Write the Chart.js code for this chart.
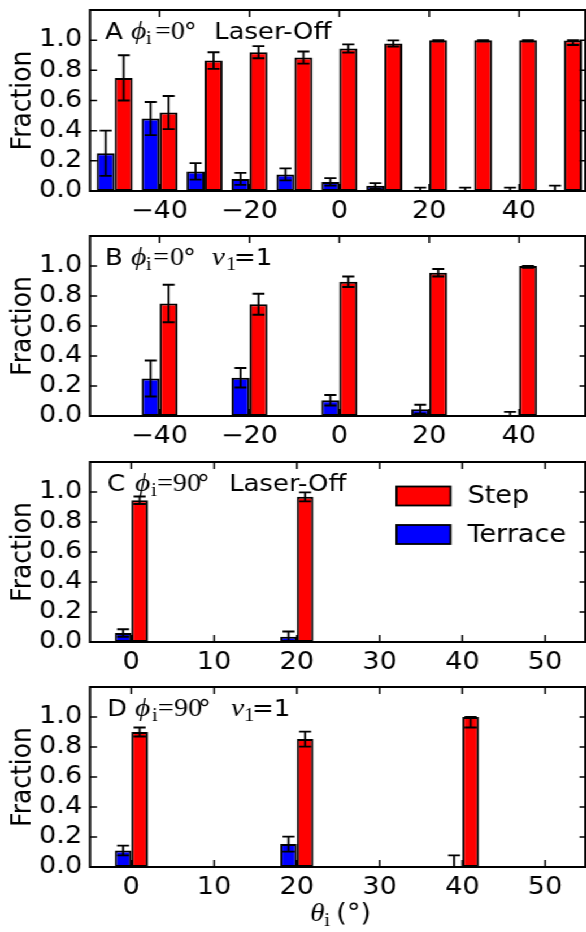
<!DOCTYPE html>
<html>
<head>
<meta charset="utf-8">
<script src="https://cdn.jsdelivr.net/npm/chart.js@4.4.1/dist/chart.umd.min.js"></script>
<style>
    html, body { margin: 0; padding: 0; background: #ffffff; }
    body { width: 586px; height: 932px; position: relative; overflow: hidden; }
    /* the original figure is a little wider than tall, so the drawing is stretched sideways */
    #stage { position: absolute; left: 0; top: 0; width: 519px; height: 932px; transform: scaleX(1.13); transform-origin: 0 0; }
    .panel { position: absolute; left: 0; }
</style>
</head>
<body>
<div id="stage">
    <div class="panel" style="top:0px"><canvas id="chartA" width="519" height="226"></canvas></div>
    <div class="panel" style="top:225px"><canvas id="chartB" width="519" height="226"></canvas></div>
    <div class="panel" style="top:450px"><canvas id="chartC" width="519" height="226"></canvas></div>
    <div class="panel" style="top:675px"><canvas id="chartD" width="519" height="257"></canvas></div>
</div>
<script>
// incidence angle theta_i (deg) for each panel
const thetaA = [-50, -40, -30, -20, -10, 0, 10, 20, 30, 40, 50];
const thetaB = [-40, -20, 0, 20, 40];
const thetaC = [0, 20];
const thetaD = [0, 20, 40];

// terrace / step fractions and their error bars
const terraceA = [0.25, 0.48, 0.13, 0.08, 0.11, 0.06, 0.035, 0.003, 0.003, 0.003, 0.003];
const terraceErrA = [0.15, 0.11, 0.055, 0.04, 0.04, 0.025, 0.017, 0.02, 0.02, 0.02, 0.032];
const stepA = [0.75, 0.52, 0.865, 0.92, 0.885, 0.945, 0.978, 1.0, 1.0, 1.0, 0.998];
const stepErrA = [0.15, 0.11, 0.055, 0.04, 0.04, 0.027, 0.02, 0.01, 0.01, 0.01, 0.03];

const terraceB = [0.25, 0.255, 0.105, 0.045, 0.0];
const terraceErrB = [0.12, 0.065, 0.035, 0.03, 0.027];
const stepB = [0.75, 0.745, 0.895, 0.955, 1.0];
const stepErrB = [0.125, 0.07, 0.035, 0.025, 0.013];

const terraceC = [0.06, 0.035];
const terraceErrC = [0.025, 0.035];
const stepC = [0.945, 0.968];
const stepErrC = [0.025, 0.03];

const terraceD = [0.11, 0.153, 0.0];
const terraceErrD = [0.032, 0.05, 0.077];
const stepD = [0.9, 0.853, 1.0];
const stepErrD = [0.03, 0.05, 0.07];

// tick labels
const xTicksAB = [-40, -20, 0, 20, 40];
const xTicksCD = [0, 10, 20, 30, 40, 50];
const yTicks = [0, 0.2, 0.4, 0.6, 0.8, 1.0];

const K = 1.13; // sideways stretch of the stage
const SANS = "'DejaVu Sans', sans-serif";
const SERIF = "'Liberation Serif', 'DejaVu Serif', serif";
const FONTS = {
    sans: { font: "23px " + SANS, dy: 0 },
    it: { font: "italic 26px " + SERIF, dy: 0 },
    rm: { font: "25px " + SERIF, dy: 0 },
    sub: { font: "18px " + SERIF, dy: 5 },
    big: { font: "24px " + SANS, dy: 0 }
};

// panel headings: [text, style, x offset in page px]
const labelA = [["A", "sans", 0], ["\u03d5", "it", 26], ["i", "sub", 41], ["=", "rm", 50], ["0", "rm", 66], ["\u00b0", "sans", 79], ["Laser-Off", "sans", 109]];
const labelB = [["B", "sans", 0], ["\u03d5", "it", 26], ["i", "sub", 41], ["=", "rm", 48], ["0", "rm", 65], ["\u00b0", "sans", 78], ["\u03bd", "it", 107], ["1", "sub", 121], ["=1", "sans", 129]];
const labelC = [["C", "sans", 0], ["\u03d5", "it", 28], ["i", "sub", 44], ["=", "rm", 50], ["90", "rm", 66], ["\u00b0", "sans", 90], ["Laser-Off", "sans", 122]];
const labelD = [["D", "sans", 0], ["\u03d5", "it", 28], ["i", "sub", 45], ["=", "rm", 51], ["90", "rm", 67], ["\u00b0", "sans", 91], ["\u03bd", "it", 124], ["1", "sub", 137], ["=1", "sans", 145]];
const xTitle = [["\u03b8", "it", 0], ["i", "sub", 14], ["(\u00b0)", "big", 26]];

const panels = [
    { id: "chartA", theta: thetaA, terrace: terraceA, terraceErr: terraceErrA, step: stepA, stepErr: stepErrA,
      xMin: -55.5, xMax: 55, xTicks: xTicksAB, catPct: 0.8, padTop: 10, axisH: 35, label: labelA, labelX: 15 },
    { id: "chartB", theta: thetaB, terrace: terraceB, terraceErr: terraceErrB, step: stepB, stepErr: stepErrB,
      xMin: -55.5, xMax: 55, xTicks: xTicksAB, catPct: 0.4, padTop: 11, axisH: 35, label: labelB, labelX: 15 },
    { id: "chartC", theta: thetaC, terrace: terraceC, terraceErr: terraceErrC, step: stepC, stepErr: stepErrC,
      xMin: -5, xMax: 55, xTicks: xTicksCD, catPct: 0.4, padTop: 12, axisH: 34, label: labelC, labelX: 17, legend: true },
    { id: "chartD", theta: thetaD, terrace: terraceD, terraceErr: terraceErrD, step: stepD, stepErr: stepErrD,
      xMin: -5, xMax: 55, xTicks: xTicksCD, catPct: 0.4, padTop: 12, axisH: 65, label: labelD, labelX: 17, xTitle: xTitle }
];

function drawRich(ctx, segments, x0, baseline) {
    ctx.save();
    ctx.fillStyle = "#000";
    ctx.textBaseline = "alphabetic";
    ctx.textAlign = "left";
    segments.forEach(([text, style, dx]) => {
        ctx.font = FONTS[style].font;
        ctx.fillText(text, x0 + dx / K, baseline + FONTS[style].dy);
    });
    ctx.restore();
}

function errorBars(p) {
    return {
        id: "errorBars",
        afterDatasetsDraw(chart) {
            const ctx = chart.ctx;
            const yScale = chart.scales.y;
            const values = [p.terrace, p.step];
            const errs = [p.terraceErr, p.stepErr];
            const cap = 6 / K;
            ctx.save();
            ctx.strokeStyle = "#000";
            ctx.lineWidth = 1.8;
            chart.data.datasets.forEach((ds, d) => {
                chart.getDatasetMeta(d).data.forEach((bar, i) => {
                    const v = values[d][i];
                    const e = errs[d][i];
                    const top = yScale.getPixelForValue(Math.min(v + e, 1));
                    const bot = yScale.getPixelForValue(Math.max(v - e, 0));
                    ctx.beginPath();
                    ctx.moveTo(bar.x, top);
                    ctx.lineTo(bar.x, bot);
                    ctx.moveTo(bar.x - cap, top);
                    ctx.lineTo(bar.x + cap, top);
                    ctx.moveTo(bar.x - cap, bot);
                    ctx.lineTo(bar.x + cap, bot);
                    ctx.stroke();
                });
            });
            ctx.restore();
        }
    };
}

function frameAndText(p) {
    return {
        id: "frameAndText",
        afterDraw(chart) {
            const ctx = chart.ctx;
            const a = chart.chartArea;
            const xs = chart.scales.x;
            const ys = chart.scales.y;
            const tick = 7;

            ctx.save();
            ctx.strokeStyle = "#000";
            ctx.lineWidth = 1.5;
            ctx.beginPath();
            xs.ticks.forEach((t) => {
                const px = xs.getPixelForValue(t.value);
                ctx.moveTo(px, a.bottom);
                ctx.lineTo(px, a.bottom - tick);
                ctx.moveTo(px, a.top);
                ctx.lineTo(px, a.top + tick);
            });
            ys.ticks.forEach((t) => {
                const py = ys.getPixelForValue(t.value);
                ctx.moveTo(a.left, py);
                ctx.lineTo(a.left + tick / K, py);
                ctx.moveTo(a.right, py);
                ctx.lineTo(a.right - tick / K, py);
            });
            ctx.stroke();

            ctx.lineWidth = 2;
            ctx.strokeRect(a.left, a.top, a.right - a.left - 1, a.bottom - a.top);
            ctx.restore();

            drawRich(ctx, p.label, a.left + p.labelX / K, a.top + 29);

            if (p.legend) {
                const items = chart.data.datasets.slice().reverse();
                ctx.save();
                items.forEach((ds, k) => {
                    const cy = a.top + 34 + k * 38.5;
                    const bx = a.right - 190 / K;
                    ctx.fillStyle = ds.backgroundColor;
                    ctx.fillRect(bx, cy - 9.5, 54 / K, 19);
                    ctx.strokeStyle = "#000";
                    ctx.lineWidth = 1.8;
                    ctx.strokeRect(bx, cy - 9.5, 54 / K, 19);
                    ctx.fillStyle = "#000";
                    ctx.font = "24px " + SANS;
                    ctx.textBaseline = "middle";
                    ctx.fillText(ds.label, bx + 71 / K, cy + 1);
                });
                ctx.restore();
            }

            if (p.xTitle) {
                const cx = (a.left + a.right) / 2;
                drawRich(ctx, p.xTitle, cx - 28 / K, a.bottom + 54);
            }
        }
    };
}

function makeChart(p) {
    const canvas = document.getElementById(p.id);
    const barStyle = {
        borderColor: "#000000",
        borderWidth: 2,
        borderSkipped: false,
        categoryPercentage: p.catPct,
        barPercentage: 1.0
    };

    return new Chart(canvas.getContext("2d"), {
        type: "bar",
        data: {
            datasets: [
                {
                    label: "Terrace",
                    data: p.theta.map((t, i) => ({ x: t, y: p.terrace[i] })),
                    backgroundColor: "#0000ff",
                    ...barStyle
                },
                {
                    label: "Step",
                    data: p.theta.map((t, i) => ({ x: t, y: p.step[i] })),
                    backgroundColor: "#ff0000",
                    ...barStyle
                }
            ]
        },
        options: {
            responsive: false,
            animation: false,
            events: [],
            layout: { padding: { top: p.padTop, left: 0, right: 0, bottom: 0 } },
            plugins: {
                legend: { display: false },
                tooltip: { enabled: false }
            },
            scales: {
                x: {
                    type: "linear",
                    min: p.xMin,
                    max: p.xMax,
                    offset: false,
                    grid: { display: false, drawTicks: false },
                    border: { display: false },
                    afterBuildTicks: (s) => { s.ticks = p.xTicks.map((v) => ({ value: v })); },
                    afterFit: (s) => {
                        s.height = p.axisH;
                        s.paddingLeft = 0;
                        s.paddingRight = 0;
                    },
                    ticks: {
                        autoSkip: false,
                        maxRotation: 0,
                        padding: 6,
                        color: "#000",
                        font: { family: SANS, size: 24 },
                        callback: (v) => (v < 0 ? "\u2212" + Math.abs(v) : String(v))
                    }
                },
                y: {
                    min: 0,
                    max: 1.2,
                    grid: { display: false, drawTicks: false },
                    border: { display: false },
                    afterBuildTicks: (s) => { s.ticks = yTicks.map((v) => ({ value: v })); },
                    afterFit: (s) => {
                        s.width = 90 / K;
                        s.paddingTop = 0;
                        s.paddingBottom = 0;
                    },
                    title: {
                        display: true,
                        text: "Fraction",
                        color: "#000",
                        font: { family: SANS, size: 25 },
                        padding: { top: 5, bottom: 0 }
                    },
                    ticks: {
                        padding: 7,
                        color: "#000",
                        font: { family: SANS, size: 24 },
                        callback: (v) => Number(v).toFixed(1)
                    }
                }
            }
        },
        plugins: [errorBars(p), frameAndText(p)]
    });
}

document.addEventListener("DOMContentLoaded", () => {
    panels.forEach((p) => makeChart(p));
});
</script>
</body>
</html>
